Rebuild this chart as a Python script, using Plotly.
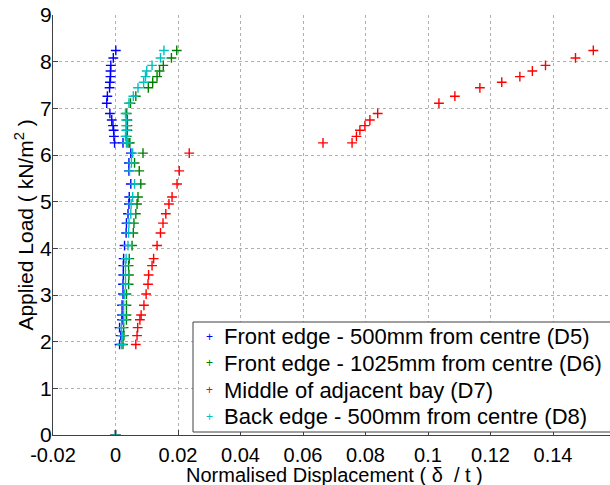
import plotly.graph_objects as go

# Load levels (kN/m^2) shared by D5, D6, D8
load_common = [0, 1.94, 2.13, 2.30, 2.47, 2.57, 2.78, 3.02, 3.23, 3.43,
               3.63, 3.78, 4.06, 4.33, 4.54, 4.74, 4.95, 5.10, 5.38, 5.66,
               5.83, 6.04, 6.26, 6.26, 6.40, 6.53, 6.63, 6.75, 6.89, 7.11,
               7.26, 7.44, 7.56, 7.68, 7.80, 7.92, 8.08, 8.24]

d5 = [0, 0.0013, 0.0017, 0.0013, 0.0021, 0.0021, 0.0021, 0.0024, 0.0024, 0.0025,
      0.0025, 0.0026, 0.0029, 0.0034, 0.0035, 0.0040, 0.0043, 0.0044, 0.0049, 0.0043,
      0.0043, 0.0049, 0.0024, -0.0003, -0.0005, -0.0006, -0.0008, -0.0012, -0.0018, -0.0028,
      -0.0026, -0.0019, -0.0018, -0.0016, -0.0016, -0.0015, -0.0007, 0.0001]

d6 = [0, 0.0024, 0.0027, 0.0026, 0.0035, 0.0035, 0.0035, 0.0035, 0.0042, 0.0043,
      0.0042, 0.0044, 0.0053, 0.0057, 0.0059, 0.0065, 0.0069, 0.0072, 0.0081, 0.0076,
      0.0061, 0.0088, 0.0043, 0.0046, 0.0036, 0.0038, 0.0038, 0.0038, 0.0036, 0.0048,
      0.0065, 0.0105, 0.0119, 0.0133, 0.0141, 0.0153, 0.0179, 0.0196]

d8 = [0, 0.0019, 0.0022, 0.0019, 0.0026, 0.0026, 0.0026, 0.0029, 0.0032, 0.0032,
      0.0032, 0.0034, 0.0040, 0.0042, 0.0043, 0.0049, 0.0050, 0.0055, 0.0061, 0.0045,
      0.0051, 0.0055, 0.0035, 0.0038, 0.0032, 0.0034, 0.0034, 0.0034, 0.0032, 0.0043,
      0.0057, 0.0072, 0.0090, 0.0096, 0.0100, 0.0117, 0.0144, 0.0155]

# D7 load levels and displacements
load_d7 = [0, 1.94, 2.13, 2.30, 2.47, 2.57, 2.78, 3.02, 3.23, 3.43,
           3.63, 3.78, 4.06, 4.33, 4.54, 4.74, 4.95, 5.10, 5.38, 5.66,
           6.04, 6.26, 6.26, 6.40, 6.53, 6.63, 6.75, 6.89, 7.11, 7.26,
           7.44, 7.56, 7.68, 7.80, 7.92, 8.08, 8.24]
d7 = [0, 0.0065, 0.0069, 0.0071, 0.0078, 0.0082, 0.0091, 0.0098, 0.0104, 0.0106,
      0.0117, 0.0122, 0.0133, 0.0144, 0.0152, 0.0161, 0.0171, 0.0181, 0.0197, 0.0204,
      0.0236, 0.0664, 0.0757, 0.0771, 0.0782, 0.0798, 0.0814, 0.0839, 0.1035, 0.1086,
      0.1166, 0.1236, 0.1294, 0.1334, 0.1376, 0.1472, 0.1529]

names = ["Front edge - 500mm from centre (D5)",
         "Front edge - 1025mm from centre (D6)",
         "Middle of adjacent bay (D7)",
         "Back edge - 500mm from centre (D8)"]
colors = ["#0000ff", "#008000", "#ff0000", "#00bfbf"]
xs = [d5, d6, d7, d8]
ys = [load_common, load_common, load_d7, load_common]

x_ticks = [-0.02, 0, 0.02, 0.04, 0.06, 0.08, 0.1, 0.12, 0.14]
x_ticklabels = ["-0.02", "0", "0.02", "0.04", "0.06", "0.08", "0.1", "0.12", "0.14"]
y_ticks = list(range(0, 10))

x_title = "Normalised Displacement ( \u03b4  / t )"
y_title = "Applied Load ( kN/m<sup>2</sup> )"

FONT = "Liberation Sans, Arial, sans-serif"

# plot area in pixels
PL, PR, PT, PB = 53, 610, 15, 435
PW, PH = PR - PL, PB - PT


def px_x(p):
    return (p - PL) / PW


def px_y(p):
    return (PB - p) / PH


fig = go.Figure()
for name, c, x, y in zip(names, colors, xs, ys):
    fig.add_trace(go.Scatter(
        x=x, y=y, mode="markers", name=name, showlegend=False,
        marker=dict(symbol="cross-thin", size=7, color=c,
                    line=dict(width=1.4, color=c)),
    ))

# legend box (drawn manually, like the MATLAB legend)
fig.add_shape(type="rect", xref="paper", yref="paper",
              x0=px_x(193), x1=px_x(640), y0=px_y(432), y1=px_y(322),
              line=dict(color="#404040", width=1), fillcolor="white", layer="above")
row_y = [336.7, 363.3, 390.0, 416.7]
annotations = []
for name, c, ry in zip(names, colors, row_y):
    annotations.append(dict(
        text="+", x=px_x(209), y=px_y(ry), xref="paper", yref="paper",
        xanchor="center", yanchor="middle", showarrow=False,
        font=dict(family=FONT, size=12, color=c)))
    annotations.append(dict(
        text=name, x=px_x(222), y=px_y(ry), xref="paper", yref="paper",
        xanchor="left", yanchor="middle", showarrow=False,
        font=dict(family=FONT, size=22, color="black")))

# x-axis title (centred on the full MATLAB axis, which extends past the window)
annotations.append(dict(
    text=x_title, x=px_x(335), y=px_y(475), xref="paper", yref="paper",
    xanchor="center", yanchor="middle", showarrow=False,
    font=dict(family=FONT, size=20, color="black")))

fig.update_layout(
    width=610, height=485,
    margin=dict(l=PL, r=610 - PR, t=PT, b=485 - PB, autoexpand=False),
    paper_bgcolor="white", plot_bgcolor="white",
    font=dict(family=FONT, size=20, color="black"),
    showlegend=False,
    annotations=annotations,
    xaxis=dict(
        range=[-0.02, -0.02 + 557 / 3125],
        tickmode="array", tickvals=x_ticks, ticktext=x_ticklabels,
        ticks="inside", ticklen=5, tickcolor="#404040",
        showline=True, linecolor="#404040", linewidth=1,
        showgrid=True, gridcolor="#b0b0b0", griddash="dot", gridwidth=1,
        zeroline=False,
        tickfont=dict(size=20),
        ticklabelstandoff=2,
    ),
    yaxis=dict(
        range=[0, 9],
        tickmode="array", tickvals=y_ticks,
        ticks="inside", ticklen=5, tickcolor="#404040",
        showline=True, linecolor="#404040", linewidth=1,
        showgrid=True, gridcolor="#b0b0b0", griddash="dot", gridwidth=1,
        zeroline=False,
        tickfont=dict(size=21),
        ticklabelstandoff=-4,
        title=dict(text=y_title, font=dict(size=21), standoff=0),
    ),
)

fig.write_html("out.html")
